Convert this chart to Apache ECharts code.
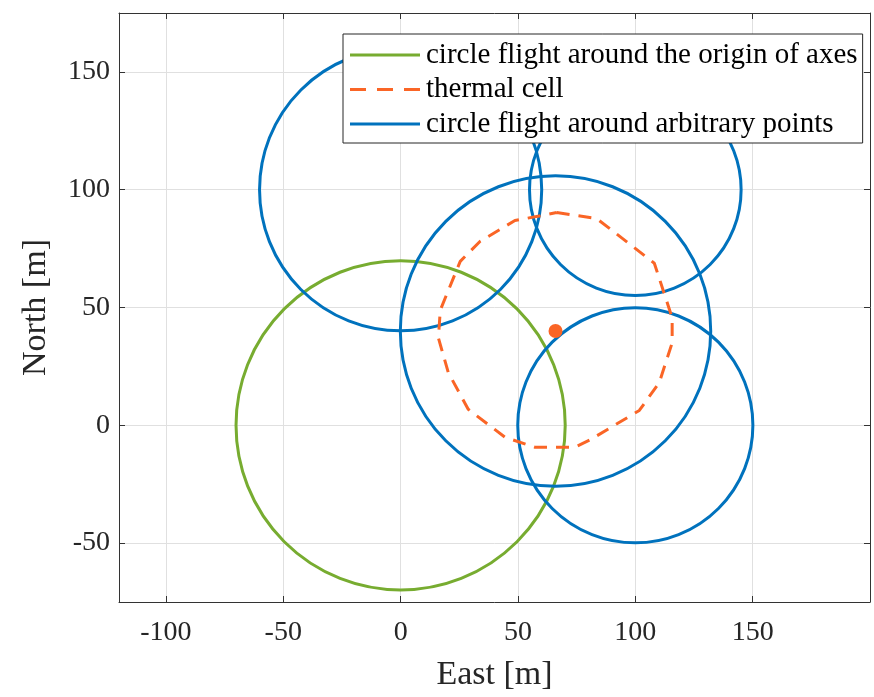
<!DOCTYPE html>
<html>
<head>
<meta charset="utf-8">
<script src="https://cdn.jsdelivr.net/npm/echarts@6/dist/echarts.min.js"></script>
<style>
  html, body { margin: 0; padding: 0; background: #ffffff; }
  #chart { width: 874px; height: 697px; }
</style>
</head>
<body>
<div id="chart"></div>
<script>
// Circle flights: [centerEast, centerNorth, radius] in metres
const originCircle = [[0, 0, 70]];
const arbitraryCircles = [
  [0, 100, 60],
  [100, 100, 45],
  [66, 40, 66],
  [100, 0, 50]
];
// Thermal cell outline: [East, North] vertices
const thermalCell = [
  [66.5, 90.3], [83.5, 87.8], [108.1, 68.8], [115.7, 45.6], [115.7, 35.0],
  [110.2, 18.1], [101.7, 6.3], [80.5, -6.3], [74.2, -9.3], [57.2, -9.3],
  [44.5, -5.1], [28.8, 6.8], [20.3, 22.4], [16.1, 37.1], [16.9, 48.9],
  [25.4, 69.6], [33.9, 78.1], [48.7, 86.9], [66.5, 90.3]
];
const thermalCenter = [[66, 40]];
const seriesNames = [
  'circle flight around the origin of axes',
  'thermal cell',
  'circle flight around arbitrary points'
];

const GREEN = '#77AC30';
const ORANGE = '#FA6526';
const BLUE = '#0072BD';
const AXIS = '#333333';
const FONT = 'Liberation Serif';

function circleRenderer(color) {
  return function (params, api) {
    const c = api.coord([api.value(0), api.value(1)]);
    const s = api.size([api.value(2), api.value(2)]);
    return {
      type: 'circle',
      shape: { cx: c[0], cy: c[1], r: (s[0] + s[1]) / 2 },
      style: { fill: 'none', stroke: color, lineWidth: 3 }
    };
  };
}

const axisCommon = {
  type: 'value',
  axisLine: { show: true, onZero: false, lineStyle: { color: AXIS, width: 1 } },
  axisTick: { show: true, inside: true, length: 6, lineStyle: { color: AXIS } },
  splitLine: { show: false },
  axisLabel: { show: false }
};

const chart = echarts.init(document.getElementById('chart'), null, { renderer: 'canvas' });
chart.setOption({
  animation: false,
  backgroundColor: '#ffffff',
  grid: { left: 119, right: 4, top: 13, bottom: 92, containLabel: false },
  xAxis: [
    Object.assign({}, axisCommon, {
      min: -120, max: 200, position: 'bottom',
      splitLine: { show: true, lineStyle: { color: '#e0e0e0', width: 1 } },
      axisLabel: {
        show: true, margin: 17, color: '#262626', fontSize: 28, fontFamily: FONT,
        showMinLabel: false, showMaxLabel: false
      },
      name: 'East [m]', nameLocation: 'middle', nameGap: 56,
      nameTextStyle: { color: '#262626', fontSize: 34, fontFamily: FONT }
    }),
    Object.assign({}, axisCommon, { min: -120, max: 200, position: 'top' })
  ],
  yAxis: [
    Object.assign({}, axisCommon, {
      min: -75, max: 175, position: 'left',
      splitLine: { show: true, lineStyle: { color: '#e0e0e0', width: 1 } },
      axisLabel: {
        show: true, margin: 9, color: '#262626', fontSize: 28, fontFamily: FONT,
        showMinLabel: false, showMaxLabel: false
      },
      name: 'North [m]', nameLocation: 'middle', nameGap: 66,
      nameTextStyle: { color: '#262626', fontSize: 34, fontFamily: FONT }
    }),
    Object.assign({}, axisCommon, { min: -75, max: 175, position: 'right' })
  ],
  legend: {
    orient: 'vertical',
    left: 343, top: 34,
    padding: [6, 5, 4, 7],
    itemGap: 4.5,
    itemWidth: 70,
    itemHeight: 3,
    backgroundColor: '#ffffff',
    borderColor: '#262626',
    borderWidth: 1,
    borderRadius: 0,
    textStyle: { color: '#000000', fontSize: 29, fontFamily: FONT, lineHeight: 30, padding: [0, 0, 0, 1] },
    itemStyle: { borderWidth: 0 },
    selectedMode: false,
    data: [
      { name: seriesNames[0], icon: 'path://M0,0H70V3H0Z' },
      { name: seriesNames[1], icon: 'path://M0,0H16V3H0Z M27,0H43V3H27Z M54,0H70V3H54Z' },
      { name: seriesNames[2], icon: 'path://M0,0H70V3H0Z' }
    ],
    z: 10
  },
  series: [
    {
      name: seriesNames[0],
      type: 'custom',
      xAxisIndex: 0, yAxisIndex: 0,
      renderItem: circleRenderer(GREEN),
      itemStyle: { color: GREEN },
      encode: { x: 0, y: 1 },
      data: originCircle,
      z: 2
    },
    {
      name: seriesNames[2],
      type: 'custom',
      xAxisIndex: 0, yAxisIndex: 0,
      renderItem: circleRenderer(BLUE),
      itemStyle: { color: BLUE },
      encode: { x: 0, y: 1 },
      data: arbitraryCircles,
      z: 3
    },
    {
      name: seriesNames[1],
      type: 'line',
      xAxisIndex: 0, yAxisIndex: 0,
      data: thermalCell,
      showSymbol: false,
      symbol: 'none',
      color: ORANGE,
      lineStyle: { color: ORANGE, width: 3, type: [13, 9] },
      z: 4
    },
    {
      name: 'thermal center',
      type: 'scatter',
      xAxisIndex: 0, yAxisIndex: 0,
      data: thermalCenter,
      symbol: 'circle',
      symbolSize: 14,
      itemStyle: { color: ORANGE, opacity: 1 },
      emphasis: { disabled: true },
      z: 5
    }
  ]
});
</script>
</body>
</html>
